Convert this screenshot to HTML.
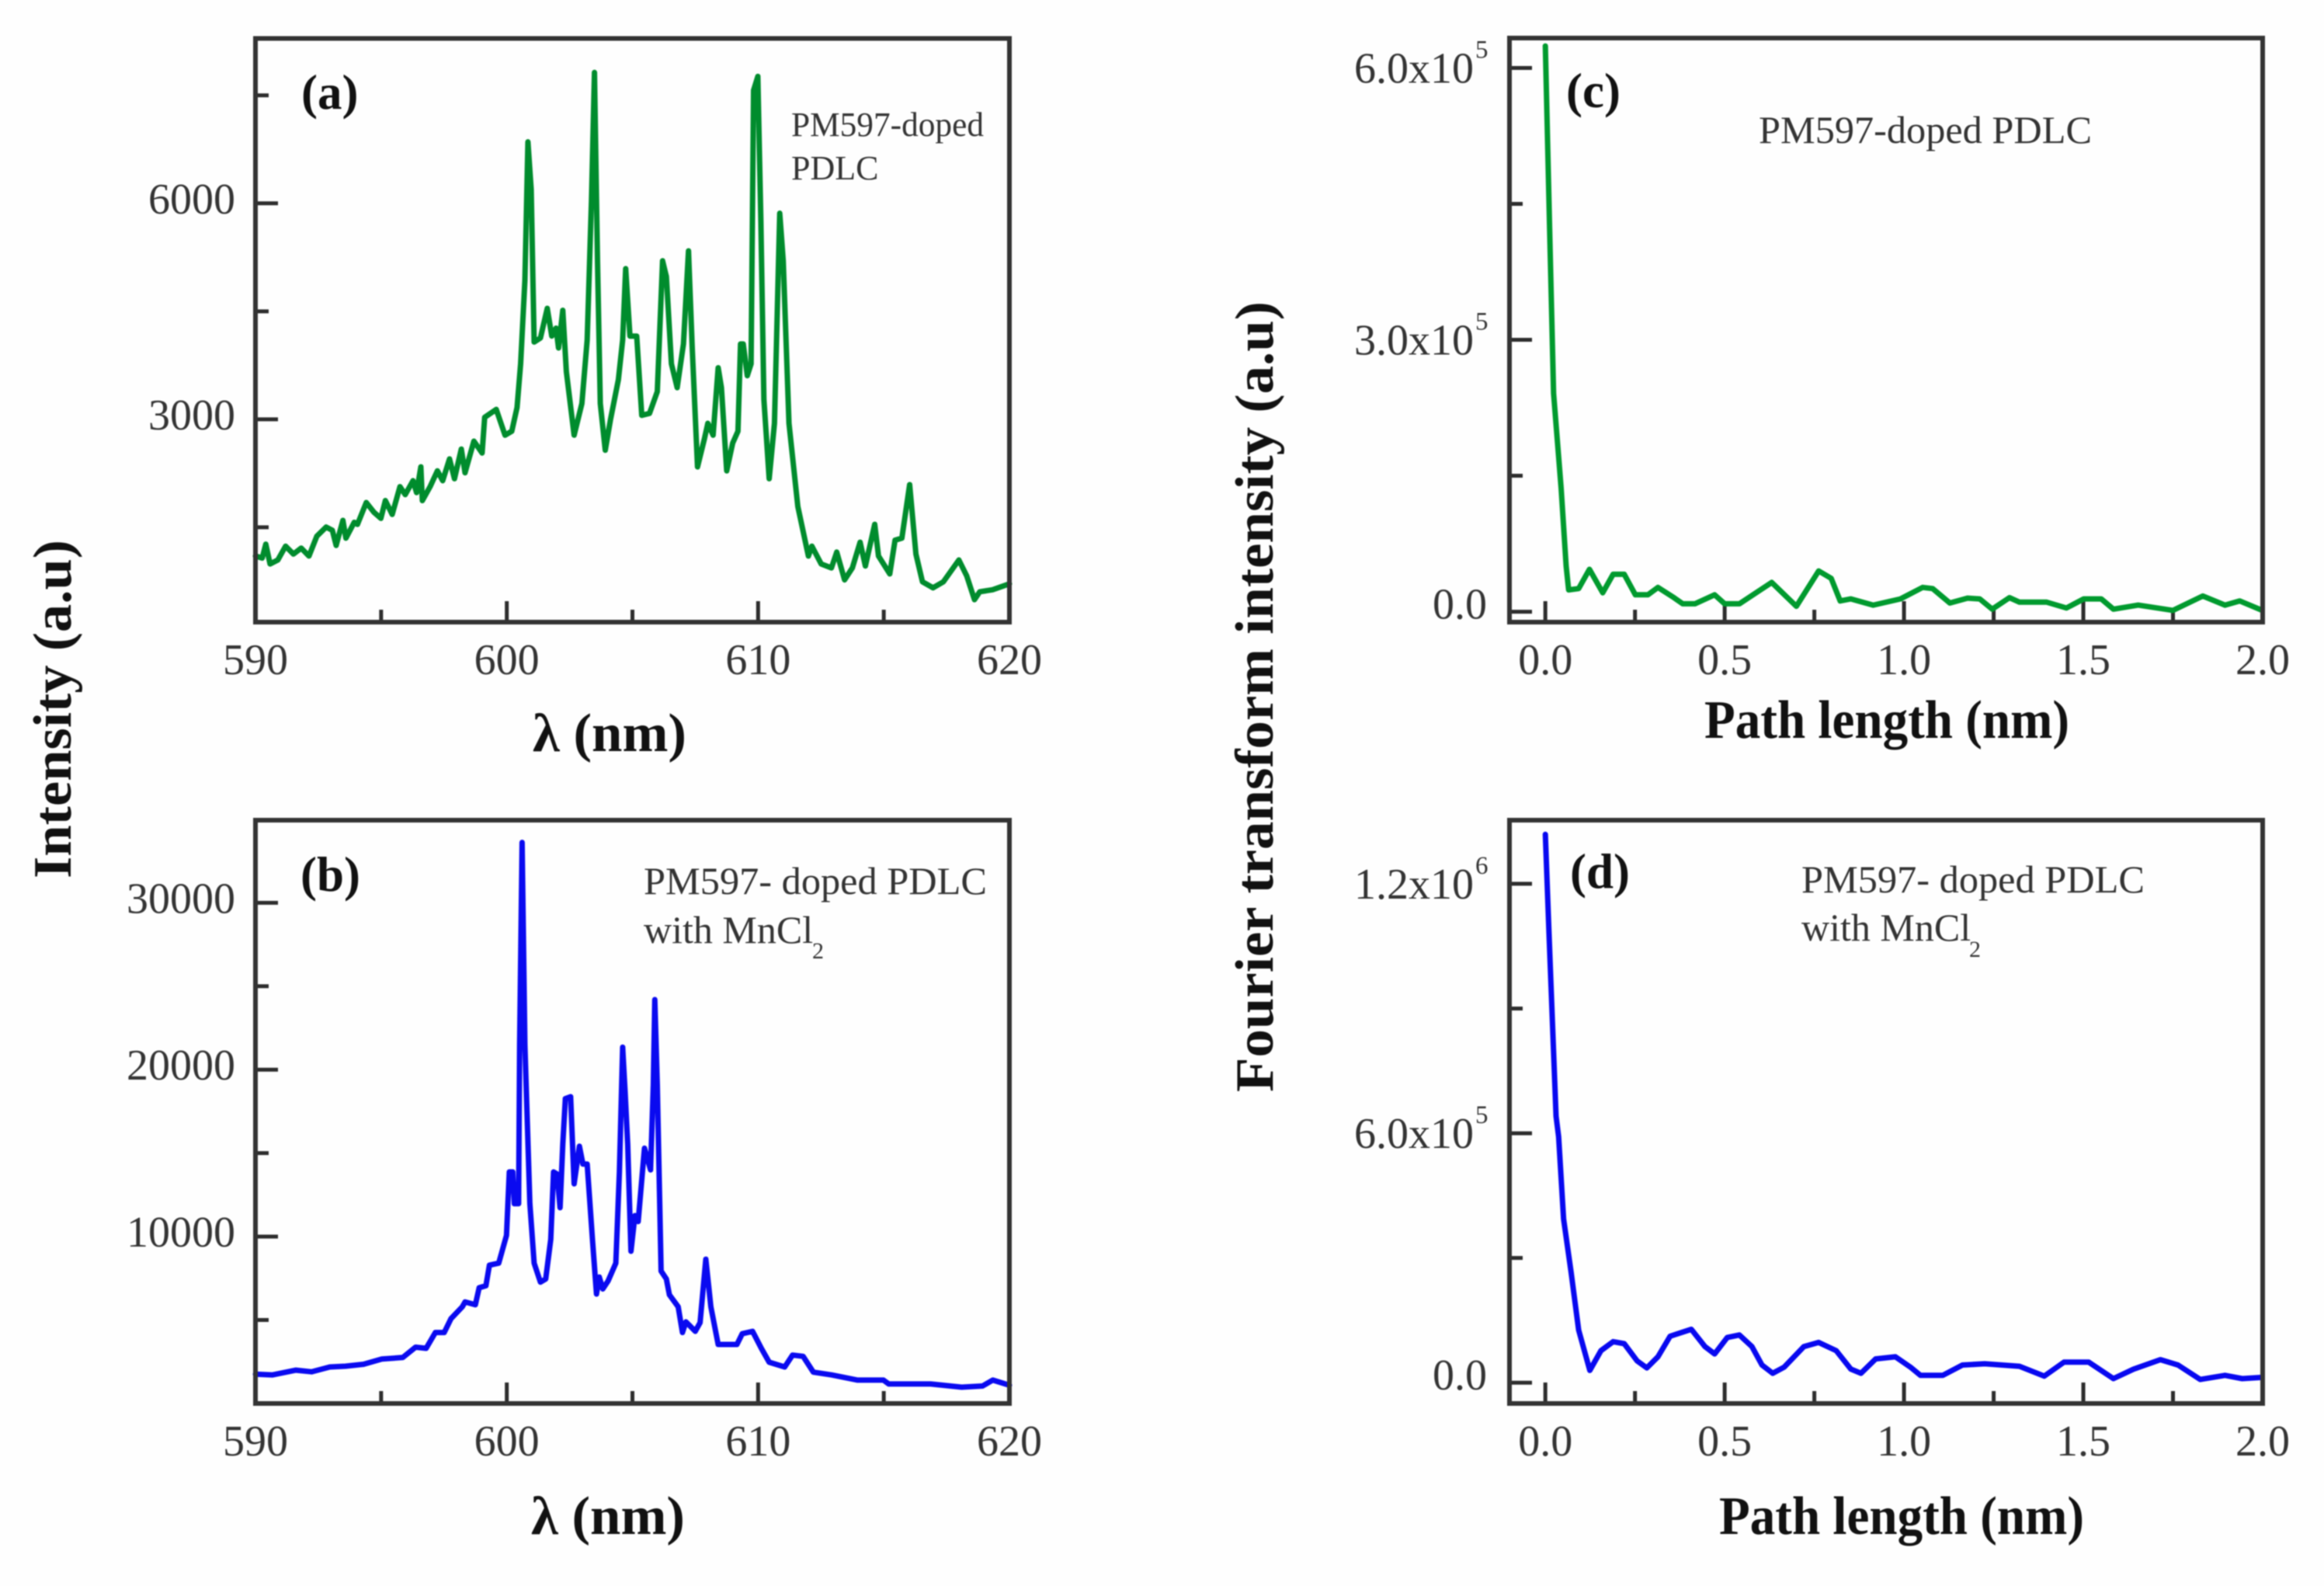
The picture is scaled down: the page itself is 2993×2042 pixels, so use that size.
<!DOCTYPE html>
<html lang="en">
<head>
<meta charset="utf-8">
<title>PM597-doped PDLC spectra and Fourier transforms</title>
<style>
html,body{margin:0;padding:0;background:#fff;}
body{width:2993px;height:2042px;overflow:hidden;}
svg{display:block;font-family:"Liberation Serif",serif;filter:blur(0.8px);}
.tick-label{font-size:56px;fill:#333;}
.axis-title{font-size:70px;font-weight:bold;fill:#111;}
.panel-letter{font-size:63px;font-weight:bold;fill:#111;}
.note{fill:#333;}
</style>
</head>
<body>
<svg id="figure" xmlns="http://www.w3.org/2000/svg" width="2993" height="2042" viewBox="0 0 2993 2042">
  <rect x="0" y="0" width="2993" height="2042" fill="#fefefe"/>

  <text class="axis-title" transform="translate(91,1131) rotate(-90)" textLength="436" lengthAdjust="spacingAndGlyphs">Intensity (a.u)</text>
  <text class="axis-title" transform="translate(1639,1406) rotate(-90)" textLength="1018" lengthAdjust="spacingAndGlyphs">Fourier transform intensity (a.u)</text>

  <text class="axis-title" x="686" y="967" textLength="198" lengthAdjust="spacingAndGlyphs">λ (nm)</text>
  <text class="axis-title" x="684" y="1975" textLength="198" lengthAdjust="spacingAndGlyphs">λ (nm)</text>
  <text class="axis-title" x="2195" y="950" textLength="470" lengthAdjust="spacingAndGlyphs">Path length (nm)</text>
  <text class="axis-title" x="2214" y="1975" textLength="470" lengthAdjust="spacingAndGlyphs">Path length (nm)</text>

  <text class="panel-letter" x="388" y="140">(a)</text>
  <text class="panel-letter" x="387" y="1147">(b)</text>
  <text class="panel-letter" x="2017" y="138">(c)</text>
  <text class="panel-letter" x="2022" y="1143">(d)</text>

  <text class="note" font-size="44" x="1019" y="175" textLength="248" lengthAdjust="spacingAndGlyphs">PM597-doped</text>
  <text class="note" font-size="44" x="1019" y="231">PDLC</text>

  <text class="note" font-size="50" x="829" y="1151" textLength="442" lengthAdjust="spacingAndGlyphs">PM597- doped PDLC</text>
  <text class="note" font-size="50" x="829" y="1214">with MnCl</text>
  <text class="note" font-size="30" x="1046" y="1234">2</text>

  <text class="note" font-size="50" x="2265" y="184" textLength="429" lengthAdjust="spacingAndGlyphs">PM597-doped PDLC</text>

  <text class="note" font-size="50" x="2320" y="1149" textLength="442" lengthAdjust="spacingAndGlyphs">PM597- doped PDLC</text>
  <text class="note" font-size="50" x="2320" y="1211">with MnCl</text>
  <text class="note" font-size="30" x="2536" y="1232">2</text>
</svg>

<script>
// ---- Panel (a) data ----
const waveA = [590.00,590.27,590.41,590.58,590.89,591.20,591.51,591.82,592.13,592.44,592.81,593.06,593.21,593.48,593.60,593.93,594.06,594.41,594.72,594.99,595.17,595.44,595.75,595.96,596.27,596.41,596.58,596.64,596.95,597.24,597.45,597.72,597.92,598.19,598.34,598.69,599.02,599.12,599.58,599.93,600.20,600.41,600.55,600.72,600.84,600.97,601.09,601.34,601.61,601.79,601.96,602.06,602.23,602.37,602.68,602.99,603.20,603.37,603.49,603.61,603.72,603.92,604.13,604.44,604.61,604.73,604.90,605.17,605.37,605.68,605.99,606.20,606.35,606.55,606.78,607.03,607.23,607.38,607.59,607.86,608.00,608.21,608.41,608.54,608.75,608.99,609.20,609.30,609.41,609.57,609.72,609.82,609.99,610.11,610.23,610.44,610.65,610.86,611.00,611.23,611.58,612.00,612.14,612.51,612.92,613.13,613.44,613.75,614.06,614.27,614.64,614.79,615.24,615.45,615.72,616.03,616.28,616.54,616.96,617.37,617.99,618.30,618.61,618.82,619.33,620.00];
const intensityA = [1101,1073,1266,991,1046,1238,1128,1211,1101,1376,1503,1459,1249,1596,1349,1569,1541,1844,1706,1624,1871,1679,2064,1954,2147,1982,2339,1871,2064,2284,2147,2449,2174,2587,2257,2697,2532,3028,3138,2780,2835,3165,3771,4927,6854,6193,4073,4129,4541,4156,4266,3991,4514,3661,2780,3220,4101,6028,7817,5202,3220,2571,3000,3551,4101,5092,4156,4156,3055,3083,3385,5202,4982,3771,3440,4046,5340,3991,2339,2725,2945,2780,3716,3440,2284,2670,2835,4046,4046,3606,3771,7569,7762,5752,3275,2174,2945,5863,5202,2945,1789,1101,1238,991,936,1156,770,936,1293,963,1541,1101,853,1321,1349,2092,1128,743,660,743,1046,826,495,605,633,715];

// ---- Panel (b) data ----
const waveB = [590.00,590.68,591.61,592.23,592.96,593.58,594.30,595.03,595.86,596.37,596.79,597.16,597.51,597.78,598.23,598.34,598.75,598.90,599.17,599.31,599.68,599.99,600.10,600.24,600.30,600.47,600.51,600.61,600.72,600.92,601.09,601.34,601.55,601.75,601.86,602.00,602.12,602.23,602.33,602.54,602.68,602.89,603.03,603.20,603.41,603.57,603.68,603.82,604.03,604.34,604.48,604.61,604.71,604.81,604.94,605.10,605.23,605.48,605.72,605.83,605.89,605.99,606.14,606.35,606.47,606.82,606.99,607.13,607.50,607.69,607.92,608.12,608.41,609.16,609.37,609.78,610.13,610.44,611.06,611.37,611.79,612.20,612.92,613.96,614.99,615.20,616.86,618.10,618.93,619.34,620.00];
const intensityB = [1758,1711,1996,1901,2186,2234,2352,2661,2756,3373,3302,4252,4252,5083,5796,6081,5915,6936,7055,8290,8409,10071,13871,13871,11971,11971,21471,33621,21471,11971,8409,7269,7459,9833,13871,13752,11734,15534,18265,18384,13159,15415,14346,14346,9833,6556,7577,6866,7341,8409,13871,21352,18621,15534,9121,11259,10902,15296,14000,19096,24202,19096,7934,7459,6509,5796,4252,4893,4324,4846,8646,5796,3539,3539,4181,4324,3302,2471,2186,2898,2827,1877,1711,1402,1402,1166,1166,976,1046,1402,1095];

// ---- Panel (c) data ----
const pathC = [0,0.012,0.023,0.044,0.058,0.065,0.093,0.123,0.160,0.189,0.220,0.251,0.286,0.314,0.355,0.383,0.417,0.472,0.500,0.541,0.631,0.700,0.762,0.797,0.822,0.852,0.914,0.990,1.052,1.080,1.128,1.177,1.211,1.246,1.294,1.322,1.398,1.453,1.501,1.550,1.584,1.653,1.750,1.833,1.895,1.936,1.999];
const ftC = [624300,422500,241000,136600,50400,24100,25500,46800,20900,41300,41300,18700,18700,26800,16400,8700,8700,18700,8700,8700,32300,6000,45000,36800,11900,14100,7300,14100,26800,25500,9600,15000,14100,2800,15500,10500,10500,4100,14100,14100,2800,7300,1400,17300,7300,11900,1400];

// ---- Panel (d) data ----
const pathD = [0,0.010,0.021,0.030,0.037,0.051,0.072,0.093,0.124,0.155,0.189,0.220,0.256,0.283,0.314,0.348,0.407,0.445,0.472,0.507,0.541,0.576,0.604,0.634,0.666,0.721,0.762,0.811,0.852,0.880,0.921,0.976,1.018,1.046,1.108,1.163,1.225,1.322,1.391,1.446,1.515,1.584,1.640,1.715,1.764,1.826,1.895,1.943,1.999];
const ftD = [1318900,1086400,839000,641000,591600,393700,265100,126500,29600,77100,98800,93900,52300,35500,62200,111700,128500,87000,69200,108700,114700,87000,42400,22600,37500,87000,96800,77100,32500,22600,57300,62200,37500,17700,17700,42400,45400,39500,15700,49300,49300,9800,32500,55300,42400,7800,17700,9800,12800];

// ---- Tick values and labels ----
const waveMajorTicks = [590,600,610,620];
const waveMajorLabels = ["590","600","610","620"];
const waveMinorTicks = [595,605,615];
const pathMajorTicks = [0,0.5,1.0,1.5,2.0];
const pathMajorLabels = ["0.0","0.5","1.0","1.5","2.0"];
const pathMinorTicks = [0.25,0.75,1.25,1.75];

const yMajorA = [3000,6000];
const yMajorLabelsA = ["3000","6000"];
const yMinorA = [1500,4500,7500];

const yMajorB = [10000,20000,30000];
const yMajorLabelsB = ["10000","20000","30000"];
const yMinorB = [5000,15000,25000];

const yMajorC = [0,300000,600000];
const yMantissaC = ["0.0","3.0x10","6.0x10"];
const yExponentC = ["","5","5"];
const yMinorC = [150000,450000];

const yMajorD = [0,600000,1200000];
const yMantissaD = ["0.0","6.0x10","1.2x10"];
const yExponentD = ["","5","6"];
const yMinorD = [300000,900000];

// ---- Drawing ----
const SVG_NS = "http://www.w3.org/2000/svg";
const figure = document.getElementById("figure");

function addLine(x1, y1, x2, y2, width, name) {
  const el = document.createElementNS(SVG_NS, "line");
  el.setAttribute("x1", x1);
  el.setAttribute("y1", y1);
  el.setAttribute("x2", x2);
  el.setAttribute("y2", y2);
  el.setAttribute("stroke", "#2c2c2c");
  el.setAttribute("stroke-width", width);
  
  
  figure.appendChild(el);
}

function addLabel(x, y, anchor, str, exponent, name) {
  const el = document.createElementNS(SVG_NS, "text");
  el.setAttribute("x", x);
  el.setAttribute("y", y);
  el.setAttribute("text-anchor", anchor);
  el.setAttribute("class", "tick-label");
  el.textContent = str;
  
  
  figure.appendChild(el);
  if (exponent) {
    const sup = document.createElementNS(SVG_NS, "text");
    sup.setAttribute("x", x + 2);
    sup.setAttribute("y", y - 32);
    sup.setAttribute("class", "tick-label");
    sup.setAttribute("font-size", "33");
    sup.setAttribute("style", "font-size:33px");
    sup.textContent = exponent;
    
    
    figure.appendChild(sup);
  }
}

function drawPanel(p) {
  const xScale = v => p.left + (v - p.xMin) / (p.xMax - p.xMin) * (p.right - p.left);
  const yScale = v => p.bottom - (v - p.yMin) / (p.yMax - p.yMin) * (p.bottom - p.top);

  // minor and major ticks
  p.xMinor.forEach(v => addLine(xScale(v), p.bottom, xScale(v), p.bottom - 16, 5, p.id + "-x-minor-tick"));
  p.xMajor.forEach(v => addLine(xScale(v), p.bottom, xScale(v), p.bottom - 27, 5, p.id + "-x-major-tick"));
  p.yMinor.forEach(v => addLine(p.left, yScale(v), p.left + 17, yScale(v), 5, p.id + "-y-minor-tick"));
  p.yMajor.forEach(v => addLine(p.left, yScale(v), p.left + 29, yScale(v), 5, p.id + "-y-major-tick"));

  // tick labels
  p.xMajor.forEach((v, i) => addLabel(xScale(v), p.bottom + 67, "middle", p.xLabels[i], "", p.id + "-x-tick-label"));
  p.yMajor.forEach((v, i) => {
    const exponent = p.yExponents ? p.yExponents[i] : "";
    const nudge = v === 0 ? p.zeroNudge : p.labelNudge;
    const x = exponent ? p.expLabelRight : p.labelRight;
    addLabel(x, yScale(v) + nudge, "end", p.yLabels[i], exponent, p.id + "-y-tick-label");
  });

  // series
  const path = document.createElementNS(SVG_NS, "polyline");
  path.setAttribute("points", p.xs.map((v, i) => xScale(v).toFixed(1) + "," + yScale(p.ys[i]).toFixed(1)).join(" "));
  path.setAttribute("fill", "none");
  path.setAttribute("stroke", p.color);
  path.setAttribute("stroke-width", p.lineWidth);
  path.setAttribute("stroke-linejoin", "round");
  path.setAttribute("stroke-linecap", "round");
  
  
  figure.appendChild(path);

  // frame
  const frame = document.createElementNS(SVG_NS, "rect");
  frame.setAttribute("x", p.left);
  frame.setAttribute("y", p.top);
  frame.setAttribute("width", p.right - p.left);
  frame.setAttribute("height", p.bottom - p.top);
  frame.setAttribute("fill", "none");
  frame.setAttribute("stroke", "#333");
  frame.setAttribute("stroke-width", 6);
  
  
  figure.appendChild(frame);
}

drawPanel({id:"panel-a", left:329, right:1300, top:49.5, bottom:801, xMin:590, xMax:620, yMin:183, yMax:8290,
  xs:waveA, ys:intensityA, color:"#008c2d", lineWidth:7,
  xMajor:waveMajorTicks, xLabels:waveMajorLabels, xMinor:waveMinorTicks,
  yMajor:yMajorA, yLabels:yMajorLabelsA, yMinor:yMinorA,
  labelRight:303, expLabelRight:303, labelNudge:13, zeroNudge:13});

drawPanel({id:"panel-b", left:329, right:1300, top:1056, bottom:1807, xMin:590, xMax:620, yMin:0, yMax:34950,
  xs:waveB, ys:intensityB, color:"#0a0af0", lineWidth:7,
  xMajor:waveMajorTicks, xLabels:waveMajorLabels, xMinor:waveMinorTicks,
  yMajor:yMajorB, yLabels:yMajorLabelsB, yMinor:yMinorB,
  labelRight:303, expLabelRight:303, labelNudge:13, zeroNudge:13});

drawPanel({id:"panel-c", left:1944, right:2914, top:49, bottom:801, xMin:-0.1, xMax:2.0, yMin:-11500, yMax:633000,
  xs:pathC, ys:ftC, color:"#009a2e", lineWidth:7,
  xMajor:pathMajorTicks, xLabels:pathMajorLabels, xMinor:pathMinorTicks,
  yMajor:yMajorC, yLabels:yMantissaC, yExponents:yExponentC, yMinor:yMinorC,
  labelRight:1915, expLabelRight:1898, labelNudge:19, zeroNudge:9});

drawPanel({id:"panel-d", left:1944, right:2914, top:1056, bottom:1807, xMin:-0.1, xMax:2.0, yMin:-50000, yMax:1353000,
  xs:pathD, ys:ftD, color:"#0808f0", lineWidth:7,
  xMajor:pathMajorTicks, xLabels:pathMajorLabels, xMinor:pathMinorTicks,
  yMajor:yMajorD, yLabels:yMantissaD, yExponents:yExponentD, yMinor:yMinorD,
  labelRight:1915, expLabelRight:1898, labelNudge:19, zeroNudge:9});
</script>
</body>
</html>
